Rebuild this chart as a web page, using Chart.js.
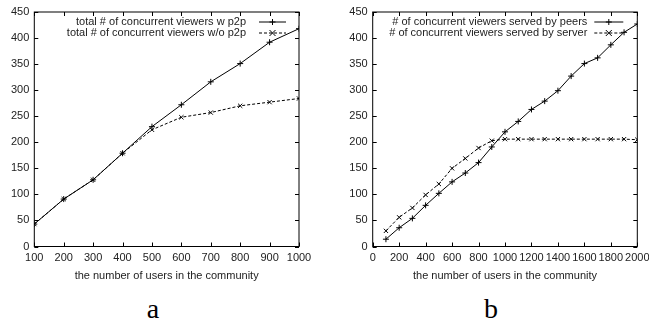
<!DOCTYPE html>
<html>
<head>
<meta charset="utf-8">
<script src="https://cdn.jsdelivr.net/npm/chart.js@4.4.1/dist/chart.umd.min.js"></script>
<style>
  html, body { margin: 0; padding: 0; background: #fff; }
  #page { position: relative; width: 649px; height: 322px; overflow: hidden; }
  canvas { position: absolute; top: 0; }
  .cap { position: absolute; top: 295px; width: 40px; text-align: center;
         font: 28px "Liberation Serif", serif; line-height: 28px; color: #000; }
</style>
</head>
<body>
<div id="page">
  <canvas id="chartA" width="320" height="286" style="left:0"></canvas>
  <canvas id="chartB" width="329" height="286" style="left:320px"></canvas>
  <div class="cap" style="left:133px">a</div>
  <div class="cap" style="left:471px">b</div>
</div>
<script>
// données
const usersA = [100, 200, 300, 400, 500, 600, 700, 800, 900, 1000];
const viewersWithP2p = [43, 91, 128, 179, 230, 272, 316, 351, 392, 418];
const viewersWithoutP2p = [43, 91, 128, 179, 224, 248, 257, 270, 277, 284];

const usersB = [100, 200, 300, 400, 500, 600, 700, 800, 900, 1000,
                1100, 1200, 1300, 1400, 1500, 1600, 1700, 1800, 1900, 2000];
const servedByPeers = [14, 36, 54, 79, 102, 124, 141, 161, 191, 220,
                       240, 263, 279, 299, 327, 351, 362, 387, 411, 427];
const servedByServer = [30, 56, 74, 99, 120, 150, 169, 189, 203, 206,
                        206, 206, 206, 206, 206, 206, 206, 206, 206, 205];

const labelsA = ["total # of concurrent viewers w p2p", "total # of concurrent viewers w/o p2p"];
const labelsB = ["# of concurrent viewers served by peers", "# of concurrent viewers served by server"];
const xTitle = "the number of users in the community";

const FONT = "'Liberation Sans', Arial, sans-serif";
const TEXT = "#222";

function pts(xs, ys) {
  return xs.map((x, i) => ({ x: x, y: ys[i] }));
}

function drawMarker(ctx, style, x, y, r) {
  ctx.beginPath();
  if (style === "cross") {
    ctx.moveTo(x - r, y); ctx.lineTo(x + r, y);
    ctx.moveTo(x, y - r); ctx.lineTo(x, y + r);
  } else {
    ctx.moveTo(x - r, y - r); ctx.lineTo(x + r, y + r);
    ctx.moveTo(x - r, y + r); ctx.lineTo(x + r, y - r);
  }
  ctx.stroke();
}

// cadre + graduations internes + légende façon gnuplot
const gnuplotFrame = {
  id: "gnuplotFrame",
  afterDraw(chart, args, opts) {
    const ctx = chart.ctx;
    const a = chart.chartArea;
    const sx = chart.scales.x, sy = chart.scales.y;
    ctx.save();
    ctx.strokeStyle = "#000";
    ctx.lineWidth = 1;
    ctx.setLineDash([]);
    ctx.strokeRect(a.left, a.top, a.right - a.left, a.bottom - a.top);
    const tl = 4;
    ctx.beginPath();
    sx.ticks.forEach(t => {
      const px = Math.round(sx.getPixelForValue(t.value)) + 0.5;
      ctx.moveTo(px, a.bottom); ctx.lineTo(px, a.bottom - tl);
      ctx.moveTo(px, a.top); ctx.lineTo(px, a.top + tl);
    });
    sy.ticks.forEach(t => {
      const py = Math.round(sy.getPixelForValue(t.value)) + 0.5;
      ctx.moveTo(a.left, py); ctx.lineTo(a.left + tl, py);
      ctx.moveTo(a.right, py); ctx.lineTo(a.right - tl, py);
    });
    ctx.stroke();

    // légende
    ctx.font = "11px " + FONT;
    ctx.textAlign = "right";
    ctx.textBaseline = "middle";
    chart.data.datasets.forEach((ds, i) => {
      const y = a.top + opts.rows[i];
      ctx.fillStyle = TEXT;
      ctx.fillText(ds.label, a.right + opts.textRight, y);
      ctx.strokeStyle = "#000";
      ctx.setLineDash(ds.borderDash || []);
      ctx.beginPath();
      ctx.moveTo(a.right + opts.line[0], y);
      ctx.lineTo(a.right + opts.line[1], y);
      ctx.stroke();
      ctx.setLineDash([]);
      drawMarker(ctx, ds.pointStyle, a.right + (opts.line[0] + opts.line[1]) / 2, y, 3);
    });
    ctx.restore();
  }
};

function makeChart(id, xs, s1, s2, labels, xMin, xMax, xStep, yAxisWidth, padRight, legend) {
  return new Chart(document.getElementById(id), {
    type: "line",
    data: {
      datasets: [{
        label: labels[0],
        data: pts(xs, s1),
        borderColor: "#000",
        borderWidth: 1,
        pointStyle: "cross",
        pointRadius: 3,
        pointBorderColor: "#000",
        pointBorderWidth: 1,
        tension: 0
      }, {
        label: labels[1],
        data: pts(xs, s2),
        borderColor: "#000",
        borderWidth: 1,
        borderDash: [3, 2],
        pointStyle: "crossRot",
        pointRadius: 3,
        pointBorderColor: "#000",
        pointBorderWidth: 1,
        tension: 0
      }]
    },
    options: {
      responsive: false,
      animation: false,
      layout: { padding: { top: 12, right: padRight, bottom: 0, left: 0 } },
      plugins: {
        legend: { display: false },
        tooltip: { enabled: false },
        gnuplotFrame: legend
      },
      scales: {
        x: {
          type: "linear",
          min: xMin, max: xMax,
          grid: { display: false, drawTicks: false },
          border: { display: false },
          ticks: {
            stepSize: xStep, autoSkip: false, maxRotation: 0, minRotation: 0,
            padding: 5, color: TEXT, font: { family: FONT, size: 11 },
            callback: v => String(v)
          },
          title: {
            display: true, text: xTitle, color: TEXT,
            font: { family: FONT, size: 11 }, padding: { top: 0, bottom: 3 }
          },
          afterFit(s) { s.height = 39.5; s.paddingLeft = 0; s.paddingRight = 0; }
        },
        y: {
          min: 0, max: 450,
          grid: { display: false, drawTicks: false },
          border: { display: false },
          ticks: { stepSize: 50, padding: 5, color: TEXT, font: { family: FONT, size: 11 } },
          afterFit(s) { s.width = yAxisWidth; }
        }
      }
    },
    plugins: [gnuplotFrame]
  });
}

makeChart("chartA", usersA, viewersWithP2p, viewersWithoutP2p, labelsA,
  100, 1000, 100, 34.3, 21, { rows: [10, 21], textRight: -53, line: [-40, -13] });
makeChart("chartB", usersB, servedByPeers, servedByServer, labelsB,
  0, 2000, 200, 52.7, 11.7, { rows: [10, 21], textRight: -50, line: [-43, -14] });
</script>
</body>
</html>
